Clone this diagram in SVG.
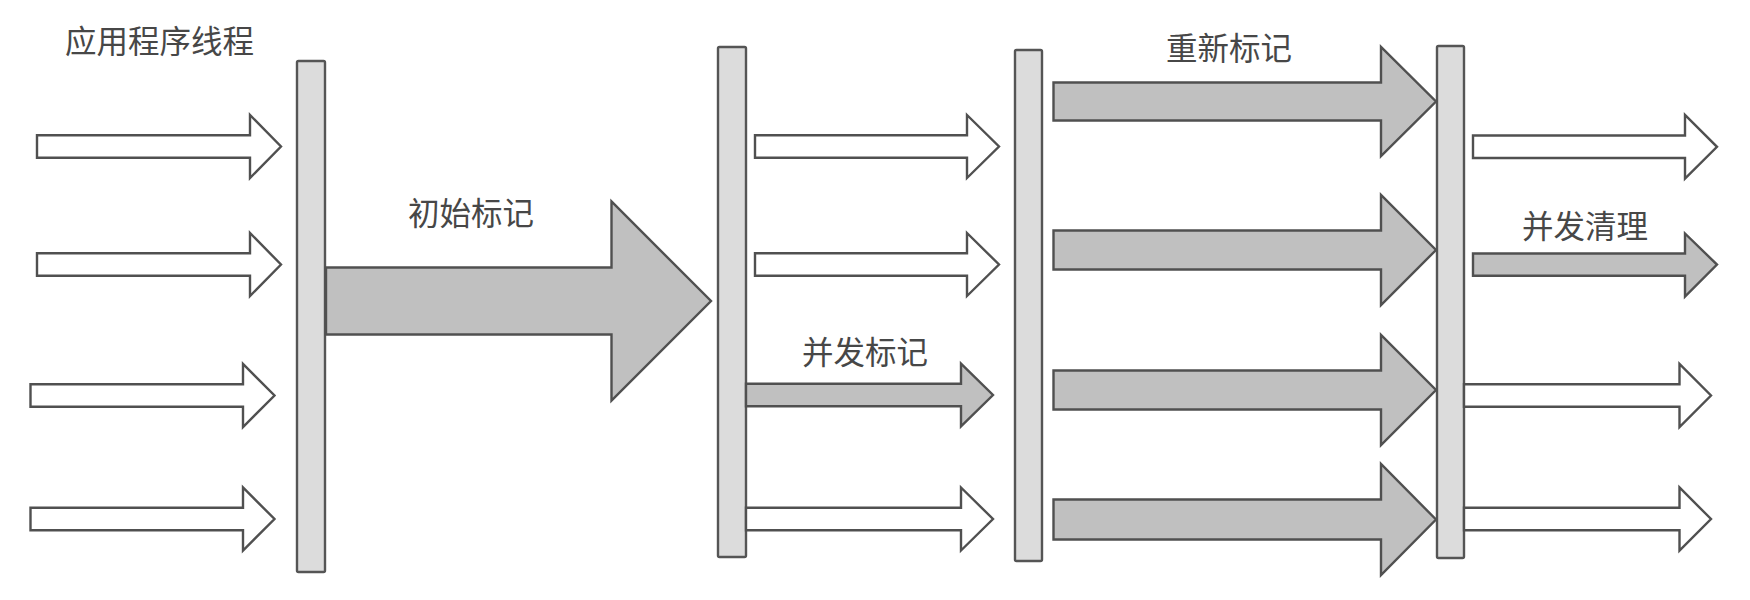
<svg xmlns="http://www.w3.org/2000/svg" width="1750" height="600" viewBox="0 0 1750 600">
<defs>
<style>
.bar{fill:#dcdcdc;stroke:#555555;stroke-width:2.4}
.wa{fill:#ffffff;stroke:#505050;stroke-width:2.4;stroke-linejoin:miter}
.ga{fill:#c0c0c0;stroke:#505050;stroke-width:2.4;stroke-linejoin:miter}
.lbl{font-family:"Noto Sans CJK SC","Noto Sans",sans-serif;font-size:31.5px;fill:#474747}
</style>
</defs>
<rect width="1750" height="600" fill="#ffffff"/>
<g id="labels">
<text class="lbl" x="65" y="53">应用程序线程</text>
<text class="lbl" x="408" y="225">初始标记</text>
<text class="lbl" x="1166" y="60">重新标记</text>
<text class="lbl" x="802" y="364">并发标记</text>
<text class="lbl" x="1522" y="238">并发清理</text>
</g>
<g id="bar1"><rect class="bar" x="297" y="61" width="28" height="511" rx="1.5"/></g>
<g id="bar2"><rect class="bar" x="718" y="47" width="28" height="510" rx="1.5"/></g>
<g id="bar3"><rect class="bar" x="1015" y="50" width="27" height="511" rx="1.5"/></g>
<g id="bar4"><rect class="bar" x="1437" y="46" width="27" height="512" rx="1.5"/></g>
<g id="connectors">
<!-- left application threads -->
<polygon class="wa" points="37,135.2 250,135.2 250,115 281,146.5 250,178 250,157.8 37,157.8"/>
<polygon class="wa" points="37,253.2 250,253.2 250,233 281,264.5 250,296 250,275.8 37,275.8"/>
<polygon class="wa" points="30.5,384.2 243,384.2 243,364 274.5,395.5 243,427 243,406.8 30.5,406.8"/>
<polygon class="wa" points="30.5,507.7 243,507.7 243,487.5 274.5,519 243,550.5 243,530.3 30.5,530.3"/>
<!-- initial mark -->
<polygon class="ga" points="326,267.5 611.5,267.5 611.5,201.5 711,301 611.5,400.5 611.5,334.5 326,334.5"/>
<!-- after bar2 -->
<polygon class="wa" points="755,135.2 967,135.2 967,115 999,146.5 967,178 967,157.8 755,157.8"/>
<polygon class="wa" points="755,253.2 967,253.2 967,233 999,264.5 967,296 967,275.8 755,275.8"/>
<polygon class="ga" points="746,383.8 961,383.8 961,363.6 993,395 961,426.4 961,406.2 746,406.2"/>
<polygon class="wa" points="746,507.7 961,507.7 961,487.5 993,519 961,550.5 961,530.3 746,530.3"/>
<!-- remark -->
<polygon class="ga" points="1053.5,82.5 1381,82.5 1381,47 1436,101.5 1381,156 1381,120.5 1053.5,120.5"/>
<polygon class="ga" points="1053.5,230.5 1381,230.5 1381,195 1436,250 1381,305 1381,269.5 1053.5,269.5"/>
<polygon class="ga" points="1053.5,370.5 1381,370.5 1381,335 1436,390 1381,445 1381,409.5 1053.5,409.5"/>
<polygon class="ga" points="1053.5,499.5 1381,499.5 1381,464 1436,519.5 1381,575 1381,539.5 1053.5,539.5"/>
<!-- after bar4 -->
<polygon class="wa" points="1473,135.5 1685,135.5 1685,115 1717,146.8 1685,178.5 1685,158 1473,158"/>
<polygon class="ga" points="1473,253.5 1685,253.5 1685,233.5 1717,264.6 1685,296.5 1685,275.7 1473,275.7"/>
<polygon class="wa" points="1464,384.2 1679.5,384.2 1679.5,364 1711,395.5 1679.5,427 1679.5,406.8 1464,406.8"/>
<polygon class="wa" points="1464,507.7 1679.5,507.7 1679.5,487.5 1711,519 1679.5,550.5 1679.5,530.3 1464,530.3"/>
</g>
</svg>
